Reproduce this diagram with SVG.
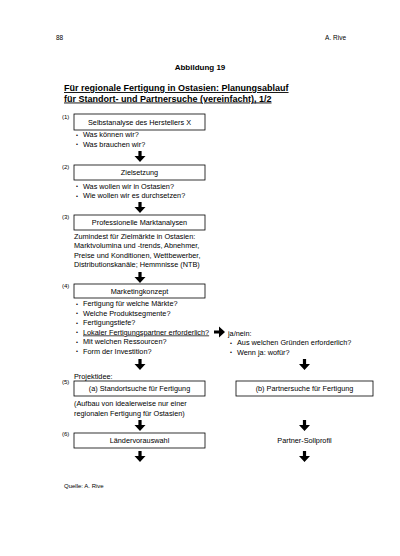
<svg xmlns="http://www.w3.org/2000/svg" width="400" height="556" viewBox="0 0 400 556">
<style>
text{font-family:"Liberation Sans",Arial,sans-serif;fill:#000}
.t{font-size:7.3px}
.d{font-size:5.5px}
.c{font-size:7.3px;text-anchor:middle}
.n{font-size:6px}
.h{font-size:6.5px}
.b{font-weight:bold}
.box{fill:#fff;stroke:#000;stroke-width:0.8}
.arr{fill:#000}
</style>
<defs>
<path id="ad" d="M-1.6,0 H1.6 V5 H5.5 L0,11 L-5.5,5 H-1.6 Z"/>
</defs>
<rect width="400" height="556" fill="#fff"/>
<text class="h" x="56" y="39.5">88</text>
<text class="h" x="346" y="39.5" text-anchor="end">A. Rive</text>
<text class="b" x="200" y="70" font-size="8" text-anchor="middle">Abbildung 19</text>
<text class="b" x="64" y="91" font-size="9" text-decoration="underline">Für regionale Fertigung in Ostasien: Planungsablauf</text>
<text class="b" x="64" y="101.5" font-size="9" text-decoration="underline">für Standort- und Partnersuche (vereinfacht), 1/2</text>

<g id="n1">
<text class="n" x="62" y="119">(1)</text>
<rect class="box" x="74" y="114" width="131" height="16"/>
<text class="c" x="139.5" y="124.5">Selbstanalyse des Herstellers X</text>
<text class="d" x="76" y="136.5">•</text><text class="t" x="83" y="137">Was können wir?</text>
<text class="d" x="76" y="146">•</text><text class="t" x="83" y="146.5">Was brauchen wir?</text>
</g>
<g id="n2">
<text class="n" x="62" y="169">(2)</text>
<rect class="box" x="74" y="165" width="131" height="15"/>
<text class="c" x="139.5" y="175">Zielsetzung</text>
<text class="d" x="76" y="188">•</text><text class="t" x="83" y="188.5">Was wollen wir in Ostasien?</text>
<text class="d" x="76" y="197.5">•</text><text class="t" x="83" y="198">Wie wollen wir es durchsetzen?</text>
</g>
<g id="n3">
<text class="n" x="62" y="219">(3)</text>
<rect class="box" x="74" y="215" width="131" height="15"/>
<text class="c" x="139.5" y="225">Professionelle Marktanalysen</text>
<text class="t" x="74" y="238.5">Zumindest für Zielmärkte in Ostasien:</text>
<text class="t" x="74" y="248">Marktvolumina und -trends, Abnehmer,</text>
<text class="t" x="74" y="257.5">Preise und Konditionen, Wettbewerber,</text>
<text class="t" x="74" y="267">Distributionskanäle; Hemmnisse (NTB)</text>
</g>
<g id="n4">
<text class="n" x="62" y="288">(4)</text>
<rect class="box" x="74" y="284" width="131" height="14"/>
<text class="c" x="139.5" y="293.5">Marketingkonzept</text>
<text class="d" x="76" y="305.5">•</text><text class="t" x="83" y="306">Fertigung für welche Märkte?</text>
<text class="d" x="76" y="315">•</text><text class="t" x="83" y="315.5">Welche Produktsegmente?</text>
<text class="d" x="76" y="324.5">•</text><text class="t" x="83" y="325">Fertigungstiefe?</text>
<text class="d" x="76" y="334">•</text><text class="t" x="83" y="334.5" text-decoration="underline">Lokaler Fertigungspartner erforderlich?</text>
<text class="d" x="76" y="343.5">•</text><text class="t" x="83" y="344">Mit welchen Ressourcen?</text>
<text class="d" x="76" y="353">•</text><text class="t" x="83" y="353.5">Form der Investition?</text>
</g>
<g id="jn">
<text class="t" x="228" y="335.5">ja/nein:</text>
<text class="d" x="230" y="344.5">•</text><text class="t" x="237" y="345">Aus welchen Gründen erforderlich?</text>
<text class="d" x="230" y="354">•</text><text class="t" x="237" y="354.5">Wenn ja: wofür?</text>
</g>
<text class="t" x="74" y="379">Projektidee:</text>
<g id="n5a">
<text class="n" x="62" y="384">(5)</text>
<rect class="box" x="74" y="381" width="131" height="15"/>
<text class="c" x="139.5" y="391">(a) Standortsuche für Fertigung</text>
<text class="t" x="74" y="406">(Aufbau von idealerweise nur einer</text>
<text class="t" x="74" y="416">regionalen Fertigung für Ostasien)</text>
</g>
<g id="n5b">
<rect class="box" x="236" y="381" width="137" height="15"/>
<text class="c" x="304.5" y="391">(b) Partnersuche für Fertigung</text>
</g>
<g id="n6">
<text class="n" x="62" y="436">(6)</text>
<rect class="box" x="74" y="433" width="131" height="15"/>
<text class="c" x="139.5" y="443">Ländervorauswahl</text>
</g>
<g id="n6b">
<text class="c" x="304.5" y="443">Partner-Sollprofil</text>
</g>
<g id="connectors" class="arr">
<use href="#ad" x="140" y="151"/>
<use href="#ad" x="140" y="202"/>
<use href="#ad" x="140" y="272"/>
<use href="#ad" x="140" y="359"/>
<use href="#ad" x="304.5" y="359"/>
<use href="#ad" x="140" y="420"/>
<use href="#ad" x="304.5" y="420"/>
<use href="#ad" x="140" y="451"/>
<use href="#ad" x="304.5" y="451"/>
<use href="#ad" transform="translate(214,332) rotate(-90)"/>
</g>
<text class="n" x="64" y="488">Quelle: A. Rive</text>
</svg>
